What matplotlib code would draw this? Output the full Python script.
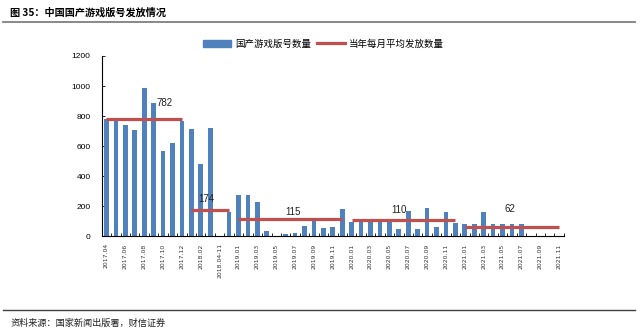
import matplotlib.pyplot as plt
from matplotlib.lines import Line2D
from matplotlib.patches import Patch

plt.rcParams['font.family'] = ['Liberation Sans', 'Noto Sans CJK SC', 'DejaVu Sans']

months = ['2017.04', '2017.05', '2017.06', '2017.07', '2017.08', '2017.09',
          '2017.10', '2017.11', '2017.12', '2018.01', '2018.02', '2018.03',
          '2018.04-11', '2018.12', '2019.01', '2019.02', '2019.03', '2019.04',
          '2019.05', '2019.06', '2019.07', '2019.08', '2019.09', '2019.10',
          '2019.11', '2019.12', '2020.01', '2020.02', '2020.03', '2020.04',
          '2020.05', '2020.06', '2020.07', '2020.08', '2020.09', '2020.10',
          '2020.11', '2020.12', '2021.01', '2021.02', '2021.03', '2021.04',
          '2021.05', '2021.06', '2021.07', '2021.08', '2021.09', '2021.10',
          '2021.11']

# monthly approvals
approvals = [778, 773, 738, 707, 984, 887, 571, 622, 767, 711, 480, 720,
             0, 160, 278, 278, 227, 38, 0, 16, 24, 67, 107, 56,
             60, 182, 93, 100, 100, 100, 100, 51, 169, 51, 187, 64,
             162, 87, 84, 84, 162, 84, 84, 84, 84, 0, 0, 0,
             0]

# yearly monthly average: first month, last month, value
avg_start = ['2017.04', '2018.01', '2019.01', '2020.01', '2021.01']
avg_end = ['2017.12', '2018.12', '2019.12', '2020.12', '2021.11']
avg_value = [782, 174, 115, 110, 62]
# label positions (category index, y)
avg_label_x = [6.2, 10.6, 19.8, 31.0, 42.8]
avg_label_y = [885, 250, 160, 178, 182]

bar_color = '#4F81BD'
line_color = '#C0504D'

fig = plt.figure(figsize=(6.4, 3.33), dpi=100)
ax = fig.add_axes([0.159, 0.290, 0.722, 0.542])

x = list(range(len(months)))
ax.bar(x, approvals, width=0.5, color=bar_color, zorder=2)

for s, e, v in zip(avg_start, avg_end, avg_value):
    i0, i1 = months.index(s), months.index(e)
    ax.plot([i0, i1], [v, v], color=line_color, lw=2.3, solid_capstyle='butt', zorder=3)
for lx, ly, v in zip(avg_label_x, avg_label_y, avg_value):
    ax.text(lx, ly, str(v), ha='center', va='center', fontsize=7, color='#222222', zorder=4)

ax.set_xlim(-0.5, len(months) - 0.5)
ax.set_ylim(0, 1200)
ax.set_yticks([0, 200, 400, 600, 800, 1000, 1200])
ax.tick_params(axis='y', direction='in', length=2, labelsize=6, pad=8, width=0.6)

ax.set_xticks(x[::2])
ax.set_xticklabels(months[::2], rotation=90, fontsize=4.4, family='DejaVu Sans', color='#333333')
ax.set_xticks([i - 0.5 for i in x] + [len(months) - 0.5], minor=True)
ax.tick_params(axis='x', which='major', length=0, pad=5)
ax.tick_params(axis='x', which='minor', direction='in', length=2.5, width=0.6)

for side in ['top', 'right']:
    ax.spines[side].set_visible(False)
for side in ['left', 'bottom']:
    ax.spines[side].set_linewidth(0.8)

handles = [Patch(color=bar_color), Line2D([0], [0], color=line_color, lw=2.3)]
fig.legend(handles, ['国产游戏版号数量', '当年每月平均发放数量'], loc='center',
           bbox_to_anchor=(0.505, 0.868), ncol=2, frameon=False,
           handlelength=3.0, handleheight=0.7, columnspacing=0.6, handletextpad=0.4,
           prop={'family': ['Noto Sans CJK SC'], 'size': 6.8})

fig.text(0.016, 0.962, '图 35：中国国产游戏版号发放情况', fontsize=7.3, fontweight='bold',
         family=['Noto Sans CJK SC'], va='center', ha='left')
fig.add_artist(Line2D([0.005, 0.992], [0.935, 0.935], color='#7f7f7f', lw=1.3))
fig.add_artist(Line2D([0.005, 0.992], [0.069, 0.069], color='#404040', lw=1.0))
fig.text(0.016, 0.030, '资料来源：国家新闻出版署，财信证券', fontsize=6.6, style='italic',
         family=['Noto Sans CJK SC'], va='center', ha='left', color='#222222')

fig.savefig('out.png', dpi=100)
